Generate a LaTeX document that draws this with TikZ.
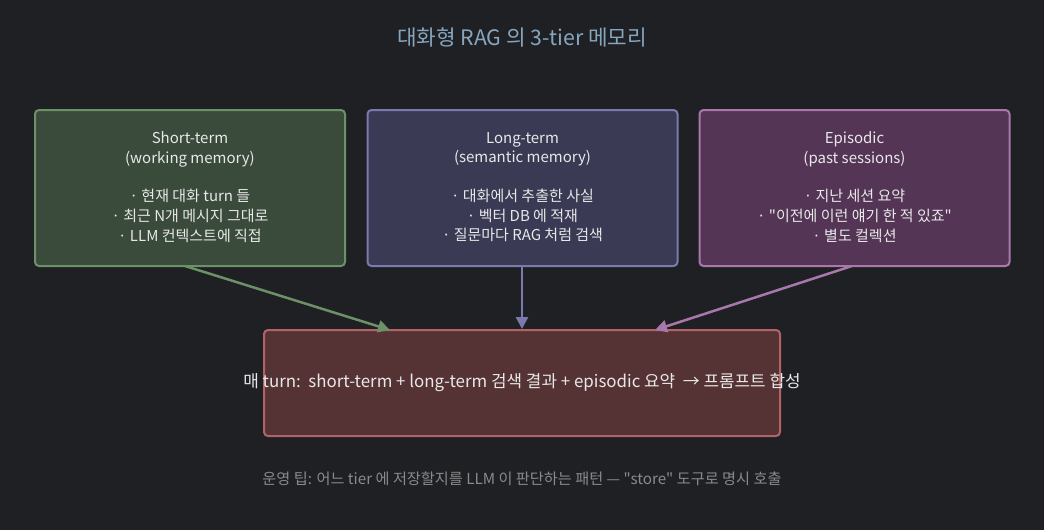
\documentclass[tikz,border=0pt]{standalone}
\usepackage{fontspec}
\setmainfont{Noto Sans CJK KR}[Ligatures=TeXOff]
\usetikzlibrary{arrows.meta}
\definecolor{bg}{HTML}{1F2023}
\definecolor{gfill}{HTML}{3A4A3B}
\definecolor{gline}{HTML}{6C9068}
\definecolor{bfill}{HTML}{3A3A55}
\definecolor{bline}{HTML}{7A7AAE}
\definecolor{pfill}{HTML}{553556}
\definecolor{pline}{HTML}{A878AC}
\definecolor{rfill}{HTML}{553334}
\definecolor{rline}{HTML}{B06468}
\definecolor{titlec}{HTML}{86A6C0}
\definecolor{notec}{HTML}{8A8A8A}
\definecolor{txt}{HTML}{E8E8E8}
\tikzset{
  tier/.style={draw, line width=2pt, rounded corners=4pt, minimum width=310pt, minimum height=156pt},
  tiertext/.style={text=txt, align=center, font=\fontsize{15}{19.6}\selectfont},
  conn/.style={line width=2.5pt, -{Triangle[length=12pt,width=12pt]}},
}
\begin{document}
\begin{tikzpicture}[x=1pt,y=-1pt]
\fill[bg] (0,0) rectangle (1044,530);
\useasboundingbox (0,0) rectangle (1044,530);
\node[text=titlec, font=\fontsize{21.3}{24}\selectfont] (title) at (522,37) {대화형 RAG 의 3-tier 메모리};

\node[tier, fill=gfill, draw=gline] (st) at (190,188) {};
\node[tier, fill=bfill, draw=bline] (lt) at (522.5,188) {};
\node[tier, fill=pfill, draw=pline] (ep) at (854.5,188) {};

\node[tiertext] (stt) at (190,187) {Short-term\\(working memory)\\[19pt]· 현재 대화 turn 들\\· 최근 N개 메시지 그대로\\· LLM 컨텍스트에 직접};
\node[tiertext] (ltt) at (522.5,187) {Long-term\\(semantic memory)\\[19pt]· 대화에서 추출한 사실\\· 벡터 DB 에 적재\\· 질문마다 RAG 처럼 검색};
\node[tiertext] (ept) at (854.5,187) {Episodic\\(past sessions)\\[19pt]· 지난 세션 요약\\· "이전에 이런 얘기 한 적 있죠"\\· 별도 컬렉션};

\node[draw=rline, fill=rfill, line width=2pt, rounded corners=4pt, minimum width=516pt, minimum height=106pt] (merge) at (522,383) {};
\node[text=txt, font=\fontsize{16.9}{18}\selectfont] (mergetext) at (522,383) {매 turn:\ \ short-term + long-term 검색 결과 + episodic 요약\ \ → 프롬프트 합성};

\coordinate (a1) at (185,266);
\coordinate (a2) at (390,330);
\coordinate (b1) at (522,266);
\coordinate (b2) at (522,329);
\coordinate (c1) at (852,266);
\coordinate (c2) at (655,330);
\draw[conn, draw=gline, fill=gline] (a1) -- (a2);
\draw[conn, draw=bline, fill=bline] (b1) -- (b2);
\draw[conn, draw=pline, fill=pline] (c1) -- (c2);

\node[text=notec, font=\fontsize{15.2}{18}\selectfont] (note) at (522,479) {운영 팁: 어느 tier 에 저장할지를 LLM 이 판단하는 패턴 — "store" 도구로 명시 호출};
\end{tikzpicture}
\end{document}
